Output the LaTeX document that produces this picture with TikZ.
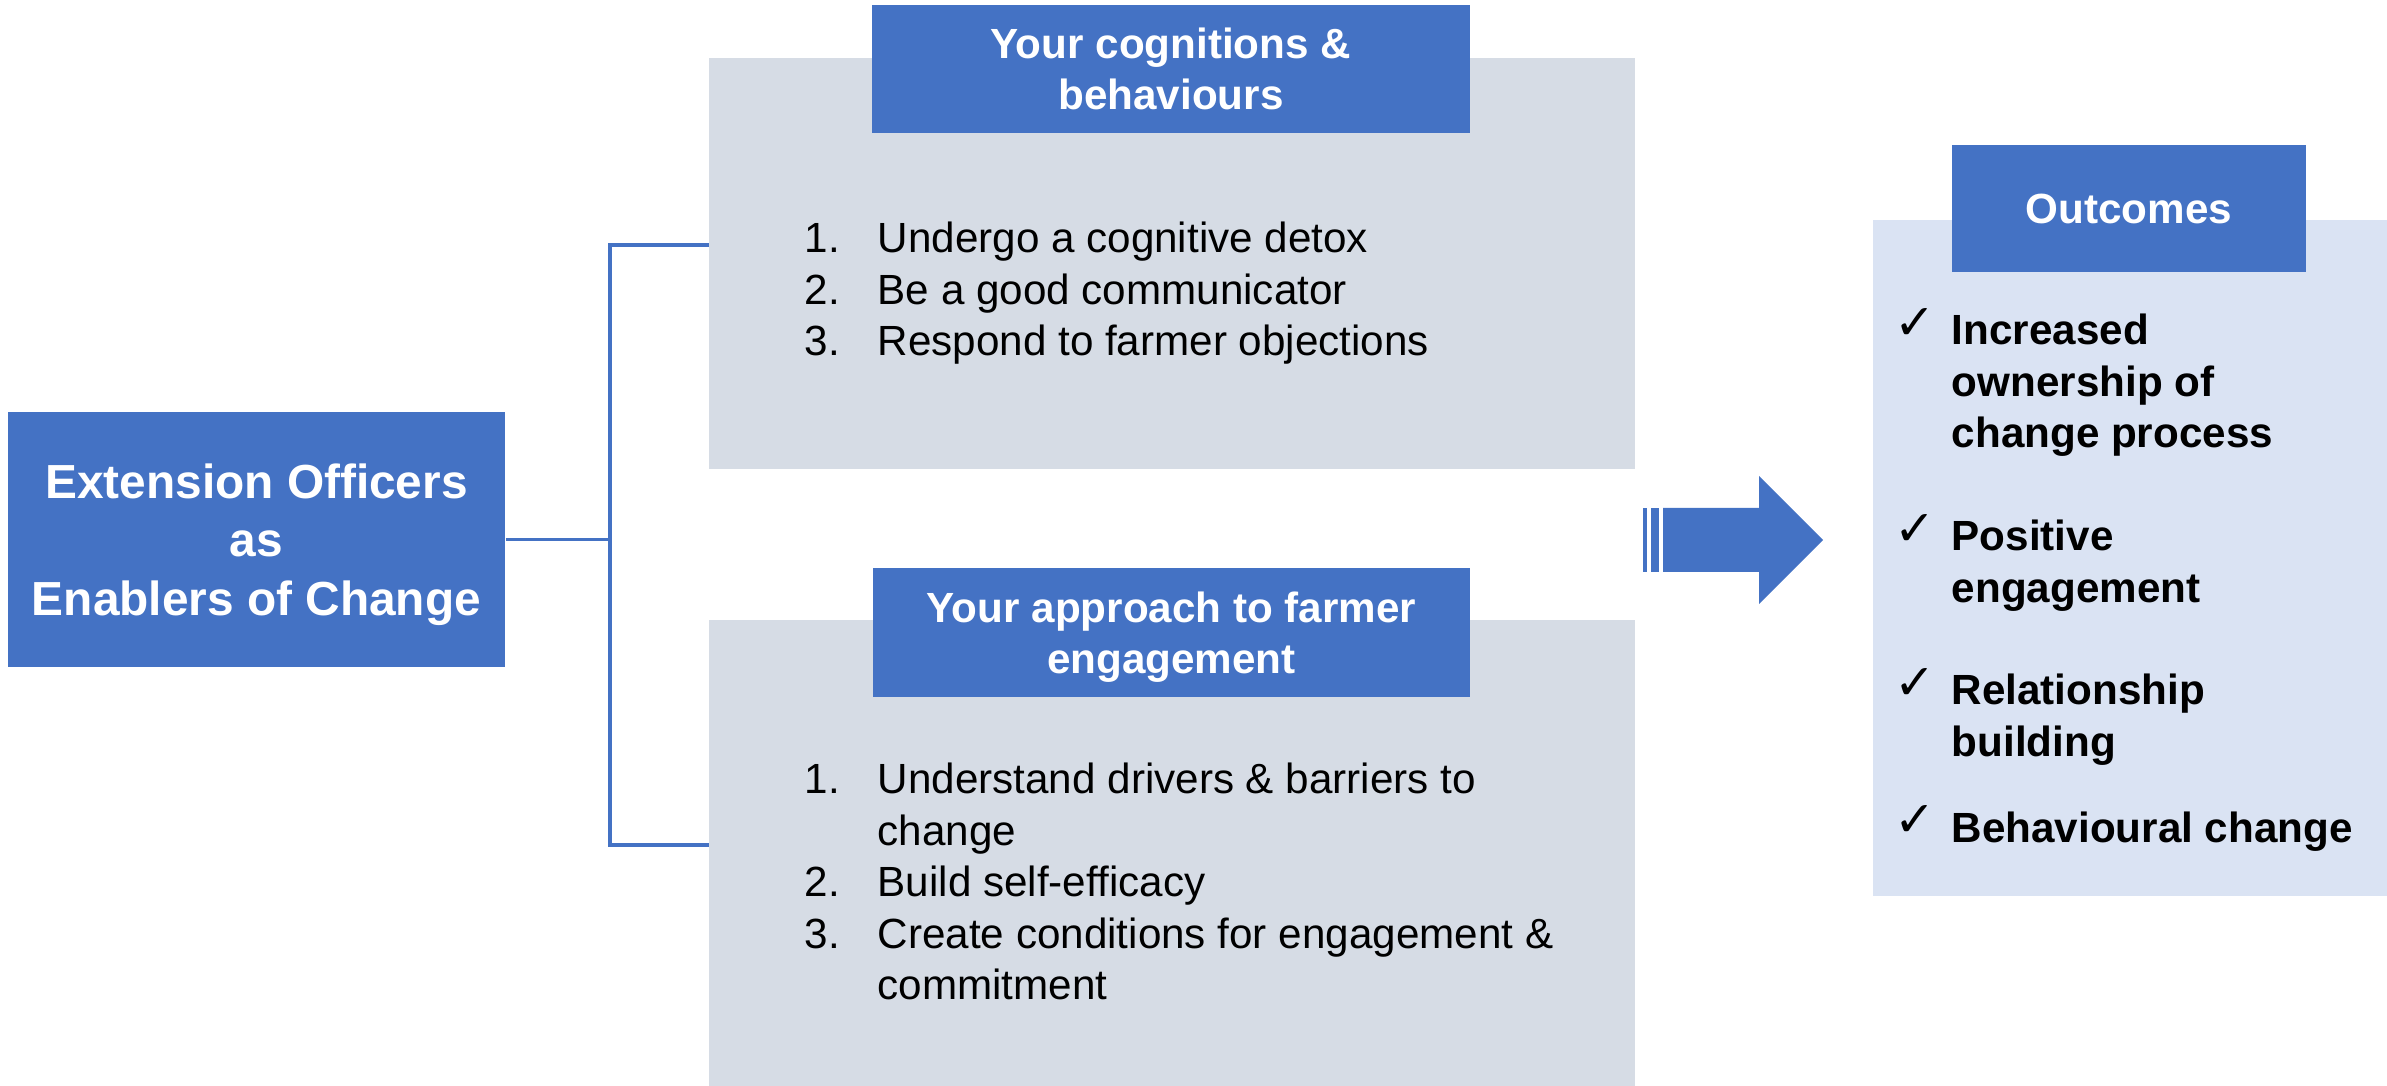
\documentclass[tikz,border=0pt]{standalone}
\usepackage{fontspec}
\setmainfont{Liberation Sans}
\newfontfamily\symfont{DejaVu Sans}

\definecolor{officeblue}{HTML}{4472C4}
\definecolor{panelgray}{HTML}{D6DCE5}
\definecolor{panelblue}{HTML}{DAE3F3}

% tick used in front of each outcome
\newcommand\outtick{\smash{\symfont\fontsize{14}{14}\selectfont\raisebox{1.5pt}{✓}}}

\begin{document}
\begin{tikzpicture}[x=0.01cm, y=-0.01cm,
    panel/.style={rectangle, inner sep=0pt, fill=#1},
    header/.style={rectangle, inner sep=0pt, fill=officeblue, text=white, align=center,
                   font=\fontsize{12}{14.5}\selectfont\bfseries},
    listtext/.style={inner sep=0pt, anchor=base west, font=\fontsize{12}{14.6}\selectfont},
    link/.style={draw=officeblue, line width=0.9pt}]
  \useasboundingbox (0,0) rectangle (2387,1086);

  \node[rectangle, inner sep=0pt, fill=officeblue, text=white, align=center,
        minimum width=4.97cm, minimum height=2.55cm,
        font=\fontsize{13.6}{16.6}\selectfont\bfseries] (officers) at (256.5,539.5)
        {Extension Officers\\as\\\smash{Enablers of Change}};

  % upper panel
  \node[panel=panelgray, minimum width=9.26cm, minimum height=4.11cm] (cogbox) at (1172,263.5) {};
  \node[header, minimum width=5.98cm, minimum height=1.27cm] (coghead) at (1171,69)
        {Your cognitions \&\\behaviours};
  \node[listtext] (coglist) at (804,253)
        {\begin{tabular}[t]{@{}p{0.73cm}@{}l@{}}
           1. & Undergo a cognitive detox\\
           2. & Be a good communicator\\
           3. & Respond to farmer objections
         \end{tabular}};

  % lower panel
  \node[panel=panelgray, minimum width=9.26cm, minimum height=4.66cm] (appbox) at (1172,853) {};
  \node[header, minimum width=5.97cm, minimum height=1.29cm] (apphead) at (1171.5,632.5)
        {Your approach to farmer\\\smash{engagement}};
  \node[listtext] (applist) at (804,794)
        {\begin{tabular}[t]{@{}p{0.73cm}@{}l@{}}
           1. & Understand drivers \& barriers to\\
              & change\\
           2. & Build self-efficacy\\
           3. & Create conditions for engagement \&\\
              & commitment
         \end{tabular}};

  % outcomes
  \node[panel=panelblue, minimum width=5.14cm, minimum height=6.76cm] (outbox) at (2130,558) {};
  \node[header, minimum width=3.54cm, minimum height=1.27cm] (outhead) at (2129,208.5) {Outcomes};
  \node[listtext, font=\fontsize{12}{14.6}\selectfont\bfseries] (outlist) at (1894,345)
        {\begin{tabular}[t]{@{}p{0.57cm}@{}l@{}}
           \outtick & Increased\\
                    & ownership of\\
                    & change process\\[14.7pt]
           \outtick & Positive\\
                    & engagement\\[14.6pt]
           \outtick & Relationship\\
                    & building\\[9.9pt]
           \outtick & Behavioural change
         \end{tabular}};

  % branches from the left box
  \coordinate (spine) at (610,539.5);
  \coordinate (cogin) at (709,245);
  \coordinate (appin) at (709,845);
  \draw[link] (officers.east) -- (spine);
  \draw[link] (cogin) -| (spine) |- (appin);

  % striped arrow towards the outcomes
  \foreach \a/\b in {1643/1647, 1651/1659}
    \fill[officeblue] (\a,508) rectangle (\b,572);
  \fill[officeblue] (1663,508) -- (1759,508) -- (1759,476) -- (1823,540)
        -- (1759,604) -- (1759,572) -- (1663,572) -- cycle;
\end{tikzpicture}
\end{document}
